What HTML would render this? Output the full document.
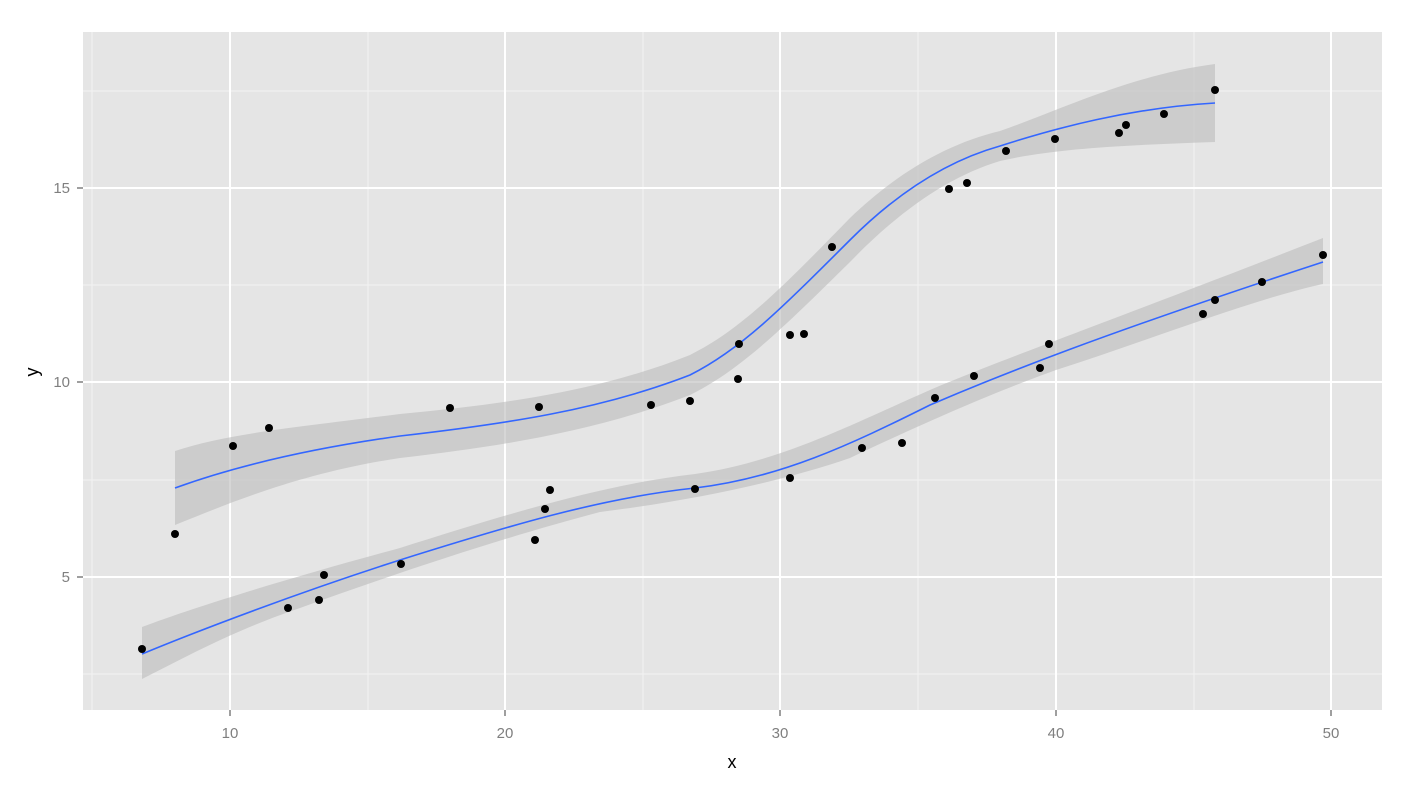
<!DOCTYPE html>
<html><head><style>body{margin:0;background:#fff}</style></head><body>
<svg width="1406" height="784" xmlns="http://www.w3.org/2000/svg" font-family="Liberation Sans, sans-serif">
<rect x="83" y="32" width="1299" height="678" fill="#e5e5e5"/>
<g stroke="#f2f2f2" stroke-width="1">
<line x1="92" y1="32" x2="92" y2="710"/><line x1="368" y1="32" x2="368" y2="710"/><line x1="643" y1="32" x2="643" y2="710"/><line x1="918" y1="32" x2="918" y2="710"/><line x1="1194" y1="32" x2="1194" y2="710"/>
<line x1="83" y1="674" x2="1382" y2="674"/><line x1="83" y1="480" x2="1382" y2="480"/><line x1="83" y1="285" x2="1382" y2="285"/><line x1="83" y1="91" x2="1382" y2="91"/>
</g>
<g stroke="#fff" stroke-width="2">
<line x1="230" y1="32" x2="230" y2="710"/><line x1="505" y1="32" x2="505" y2="710"/><line x1="780" y1="32" x2="780" y2="710"/><line x1="1056" y1="32" x2="1056" y2="710"/><line x1="1331" y1="32" x2="1331" y2="710"/>
<line x1="83" y1="577" x2="1382" y2="577"/><line x1="83" y1="382" x2="1382" y2="382"/><line x1="83" y1="188" x2="1382" y2="188"/>
</g>
<path fill="#bbbbbb" fill-opacity="0.6" d="M175,451 C230,433 300,427 400,414 C505,404 600,391 690,355 C740,330 780,290 850,218 C900,170 950,143 1000,131 C1056,112 1130,75 1215,64 L1215,142 C1130,145 1056,148 1000,161 C950,176 900,210 850,262 C780,331 740,370 690,395 C600,430 505,446 400,458 C300,473 230,503 175,525 Z"/>
<path fill="#bbbbbb" fill-opacity="0.6" d="M142,627 C200,605 300,575 400,548 C505,515 600,485 695,474 C780,462 850,425 930,390 C1000,360 1100,325 1323,238 L1323,284 C1250,300 1150,340 1056,370 C1000,390 930,420 850,458 C780,482 695,500 600,512 C505,537 400,572 300,608 C230,632 190,655 142,679 Z"/>
<path fill="none" stroke="#3366ff" stroke-width="1.6" d="M175,488 C230,468 300,450 400,436 C505,424 600,410 690,375 C740,350 780,310 850,240 C900,190 950,160 1000,146 C1056,128 1130,108 1215,103"/>
<path fill="none" stroke="#3366ff" stroke-width="1.6" d="M142,654 C200,630 300,592 400,560 C505,527 600,498 695,488 C780,478 850,445 930,405 C1000,375 1100,335 1323,262"/>
<g fill="#000">
<circle cx="175" cy="534" r="4"/><circle cx="233" cy="446" r="4"/><circle cx="269" cy="428" r="4"/><circle cx="450" cy="408" r="4"/><circle cx="539" cy="407" r="4"/><circle cx="651" cy="405" r="4"/><circle cx="690" cy="401" r="4"/><circle cx="739" cy="344" r="4"/><circle cx="738" cy="379" r="4"/><circle cx="790" cy="335" r="4"/><circle cx="804" cy="334" r="4"/><circle cx="832" cy="247" r="4"/><circle cx="949" cy="189" r="4"/><circle cx="967" cy="183" r="4"/><circle cx="1006" cy="151" r="4"/><circle cx="1055" cy="139" r="4"/><circle cx="1119" cy="133" r="4"/><circle cx="1126" cy="125" r="4"/><circle cx="1164" cy="114" r="4"/><circle cx="1215" cy="90" r="4"/>
<circle cx="142" cy="649" r="4"/><circle cx="288" cy="608" r="4"/><circle cx="319" cy="600" r="4"/><circle cx="324" cy="575" r="4"/><circle cx="401" cy="564" r="4"/><circle cx="535" cy="540" r="4"/><circle cx="545" cy="509" r="4"/><circle cx="550" cy="490" r="4"/><circle cx="695" cy="489" r="4"/><circle cx="790" cy="478" r="4"/><circle cx="862" cy="448" r="4"/><circle cx="902" cy="443" r="4"/><circle cx="935" cy="398" r="4"/><circle cx="974" cy="376" r="4"/><circle cx="1040" cy="368" r="4"/><circle cx="1049" cy="344" r="4"/><circle cx="1203" cy="314" r="4"/><circle cx="1215" cy="300" r="4"/><circle cx="1262" cy="282" r="4"/><circle cx="1323" cy="255" r="4"/>
</g>
<g stroke="#7f7f7f" stroke-width="1.5">
<line x1="230" y1="710" x2="230" y2="716"/><line x1="505" y1="710" x2="505" y2="716"/><line x1="780" y1="710" x2="780" y2="716"/><line x1="1056" y1="710" x2="1056" y2="716"/><line x1="1331" y1="710" x2="1331" y2="716"/>
<line x1="77" y1="577" x2="83" y2="577"/><line x1="77" y1="382" x2="83" y2="382"/><line x1="77" y1="188" x2="83" y2="188"/>
</g>
<g fill="#7f7f7f" font-size="15" text-anchor="middle">
<text x="230" y="738">10</text><text x="505" y="738">20</text><text x="780" y="738">30</text><text x="1056" y="738">40</text><text x="1331" y="738">50</text>
</g>
<g fill="#7f7f7f" font-size="15" text-anchor="end">
<text x="70" y="582">5</text><text x="70" y="387">10</text><text x="70" y="193">15</text>
</g>
<text x="732" y="768" font-size="18" text-anchor="middle">x</text>
<text x="38" y="372" font-size="18" text-anchor="middle" transform="rotate(-90 38 372)">y</text>
</svg>
</body></html>
